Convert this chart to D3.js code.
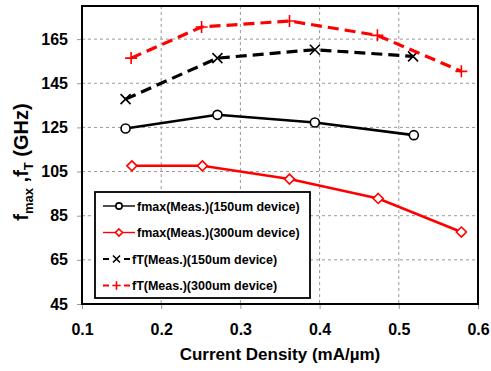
<!DOCTYPE html>
<html>
<head>
<meta charset="utf-8">
<script src="https://cdn.jsdelivr.net/npm/d3@7"></script>
<style>
  body { margin: 0; background: #fff; }
  svg { font-family: Arial, "Liberation Sans", sans-serif; }
</style>
</head>
<body>
<div id="chart"></div>
<script>
// data
const fmax150X = [0.155, 0.271, 0.394, 0.519];
const fmax150Y = [124.5, 130.7, 127.2, 121.5];
const fmax300X = [0.163, 0.252, 0.362, 0.474, 0.579];
const fmax300Y = [107.6, 107.6, 101.6, 92.8, 77.6];
const ft150X = [0.155, 0.271, 0.394, 0.518];
const ft150Y = [137.8, 156.4, 160.2, 157.2];
const ft300X = [0.162, 0.251, 0.362, 0.473, 0.579];
const ft300Y = [156.4, 170.5, 173.2, 166.7, 150.4];
const xTicks = [0.1, 0.2, 0.3, 0.4, 0.5, 0.6];
const yTicks = [45, 65, 85, 105, 125, 145, 165];
const legendLabels = [
  'fmax(Meas.)(150um device)',
  'fmax(Meas.)(300um device)',
  'fT(Meas.)(150um device)',
  'fT(Meas.)(300um device)'
];

const W = 491, H = 371;
const margin = { top: 6, right: 13, bottom: 67, left: 82 };
const width = W - margin.left - margin.right;
const height = H - margin.top - margin.bottom;

const x = d3.scaleLinear().domain([0.1, 0.6]).range([0, width]);
const y = d3.scaleLinear().domain([45, 180]).range([height, 0]);

const svg = d3.select('#chart').append('svg')
  .attr('width', W).attr('height', H);
const g = svg.append('g')
  .attr('transform', `translate(${margin.left},${margin.top})`);

// grid
g.append('g').selectAll('line').data(xTicks.slice(1, -1)).enter().append('line')
  .attr('x1', d => x(d)).attr('x2', d => x(d))
  .attr('y1', 0).attr('y2', height)
  .attr('stroke', '#999').attr('stroke-dasharray', '3,3');
g.append('g').selectAll('line').data(yTicks.slice(1)).enter().append('line')
  .attr('x1', 0).attr('x2', width)
  .attr('y1', d => y(d)).attr('y2', d => y(d))
  .attr('stroke', '#999').attr('stroke-dasharray', '3,3');

// axes
const xAxis = g.append('g')
  .attr('transform', `translate(0,${height})`)
  .call(d3.axisBottom(x).tickValues(xTicks).tickSize(5).tickPadding(15).tickFormat(d3.format('.1f')));
const yAxis = g.append('g')
  .call(d3.axisLeft(y).tickValues(yTicks).tickSize(5).tickPadding(9));
[xAxis, yAxis].forEach(a => {
  a.select('.domain').remove();
  a.selectAll('line').attr('stroke', '#999');
  a.selectAll('text').attr('font-size', 16).attr('font-weight', 'bold')
    .attr('fill', '#000').attr('font-family', 'Arial, "Liberation Sans", sans-serif');
});

// frame
g.append('rect').attr('width', width).attr('height', height)
  .attr('fill', 'none').attr('stroke', '#000').attr('stroke-width', 2);

const series = [
  { xs: fmax150X, ys: fmax150Y, color: '#000', dash: null, marker: 'circle' },
  { xs: fmax300X, ys: fmax300Y, color: '#f00', dash: null, marker: 'diamond' },
  { xs: ft150X, ys: ft150Y, color: '#000', dash: '11,6', marker: 'x' },
  { xs: ft300X, ys: ft300Y, color: '#f00', dash: '11,6', marker: 'plus' }
];

const line = d3.line().x(d => x(d[0])).y(d => y(d[1]));

function drawMarker(sel, type, color, cx, cy, s) {
  if (type === 'circle') {
    sel.append('circle').attr('cx', cx).attr('cy', cy).attr('r', 4.5 * s)
      .attr('fill', '#fff').attr('stroke', color).attr('stroke-width', 1.6);
  } else if (type === 'diamond') {
    const r = 5 * s;
    sel.append('path')
      .attr('d', `M${cx},${cy - r}L${cx + r},${cy}L${cx},${cy + r}L${cx - r},${cy}Z`)
      .attr('fill', '#fff').attr('stroke', color).attr('stroke-width', 1.6);
  } else if (type === 'x') {
    const r = 5 * s;
    sel.append('path')
      .attr('d', `M${cx - r},${cy - r}L${cx + r},${cy + r}M${cx - r},${cy + r}L${cx + r},${cy - r}`)
      .attr('stroke', color).attr('stroke-width', 1.6);
  } else {
    const r = 6 * s;
    sel.append('path')
      .attr('d', `M${cx - r},${cy}L${cx + r},${cy}M${cx},${cy - r}L${cx},${cy + r}`)
      .attr('stroke', color).attr('stroke-width', 1.6);
  }
}

series.forEach(s => {
  const pts = s.xs.map((v, i) => [v, s.ys[i]]);
  g.append('path').datum(pts)
    .attr('d', line)
    .attr('fill', 'none')
    .attr('stroke', s.color)
    .attr('stroke-width', s.dash ? 3.2 : 2.6)
    .attr('stroke-dasharray', s.dash);
  pts.forEach(p => drawMarker(g, s.marker, s.color, x(p[0]), y(p[1]), 1));
});

// legend
const lg = svg.append('g').attr('transform', 'translate(95,192)');
lg.append('rect').attr('width', 215).attr('height', 106)
  .attr('fill', '#fff').attr('stroke', '#000').attr('stroke-width', 1.8);
series.forEach((s, i) => {
  const ly = 14 + i * 26.5;
  const row = lg.append('g');
  if (s.dash) {
    row.append('line').attr('x1', 8).attr('x2', 14).attr('y1', ly).attr('y2', ly)
      .attr('stroke', s.color).attr('stroke-width', 2);
    row.append('line').attr('x1', 29).attr('x2', 35).attr('y1', ly).attr('y2', ly)
      .attr('stroke', s.color).attr('stroke-width', 2);
  } else {
    row.append('line').attr('x1', 8).attr('x2', 40).attr('y1', ly).attr('y2', ly)
      .attr('stroke', s.color).attr('stroke-width', 1.4);
  }
  drawMarker(row, s.marker, s.color, s.dash ? 21.5 : 24, ly, 0.7);
  row.append('text').attr('x', s.dash ? 37 : 42).attr('y', ly + 4.5)
    .attr('font-size', 12.5).attr('font-weight', 'bold').text(legendLabels[i]);
});

// axis titles
svg.append('text').attr('x', margin.left + width / 2).attr('y', 360)
  .attr('text-anchor', 'middle').attr('font-size', 17).attr('font-weight', 'bold')
  .text('Current Density (mA/\u00b5m)');

const yl = svg.append('text')
  .attr('transform', 'translate(28,162) rotate(-90)')
  .attr('text-anchor', 'middle').attr('font-size', 20).attr('font-weight', 'bold');
yl.append('tspan').text('f');
yl.append('tspan').attr('font-size', 13).attr('dy', 5).text('max');
yl.append('tspan').attr('dy', -5).text(' ,f');
yl.append('tspan').attr('font-size', 13).attr('dy', 5).text('T');
yl.append('tspan').attr('dy', -5).text(' (GHz)');
</script>
</body>
</html>
